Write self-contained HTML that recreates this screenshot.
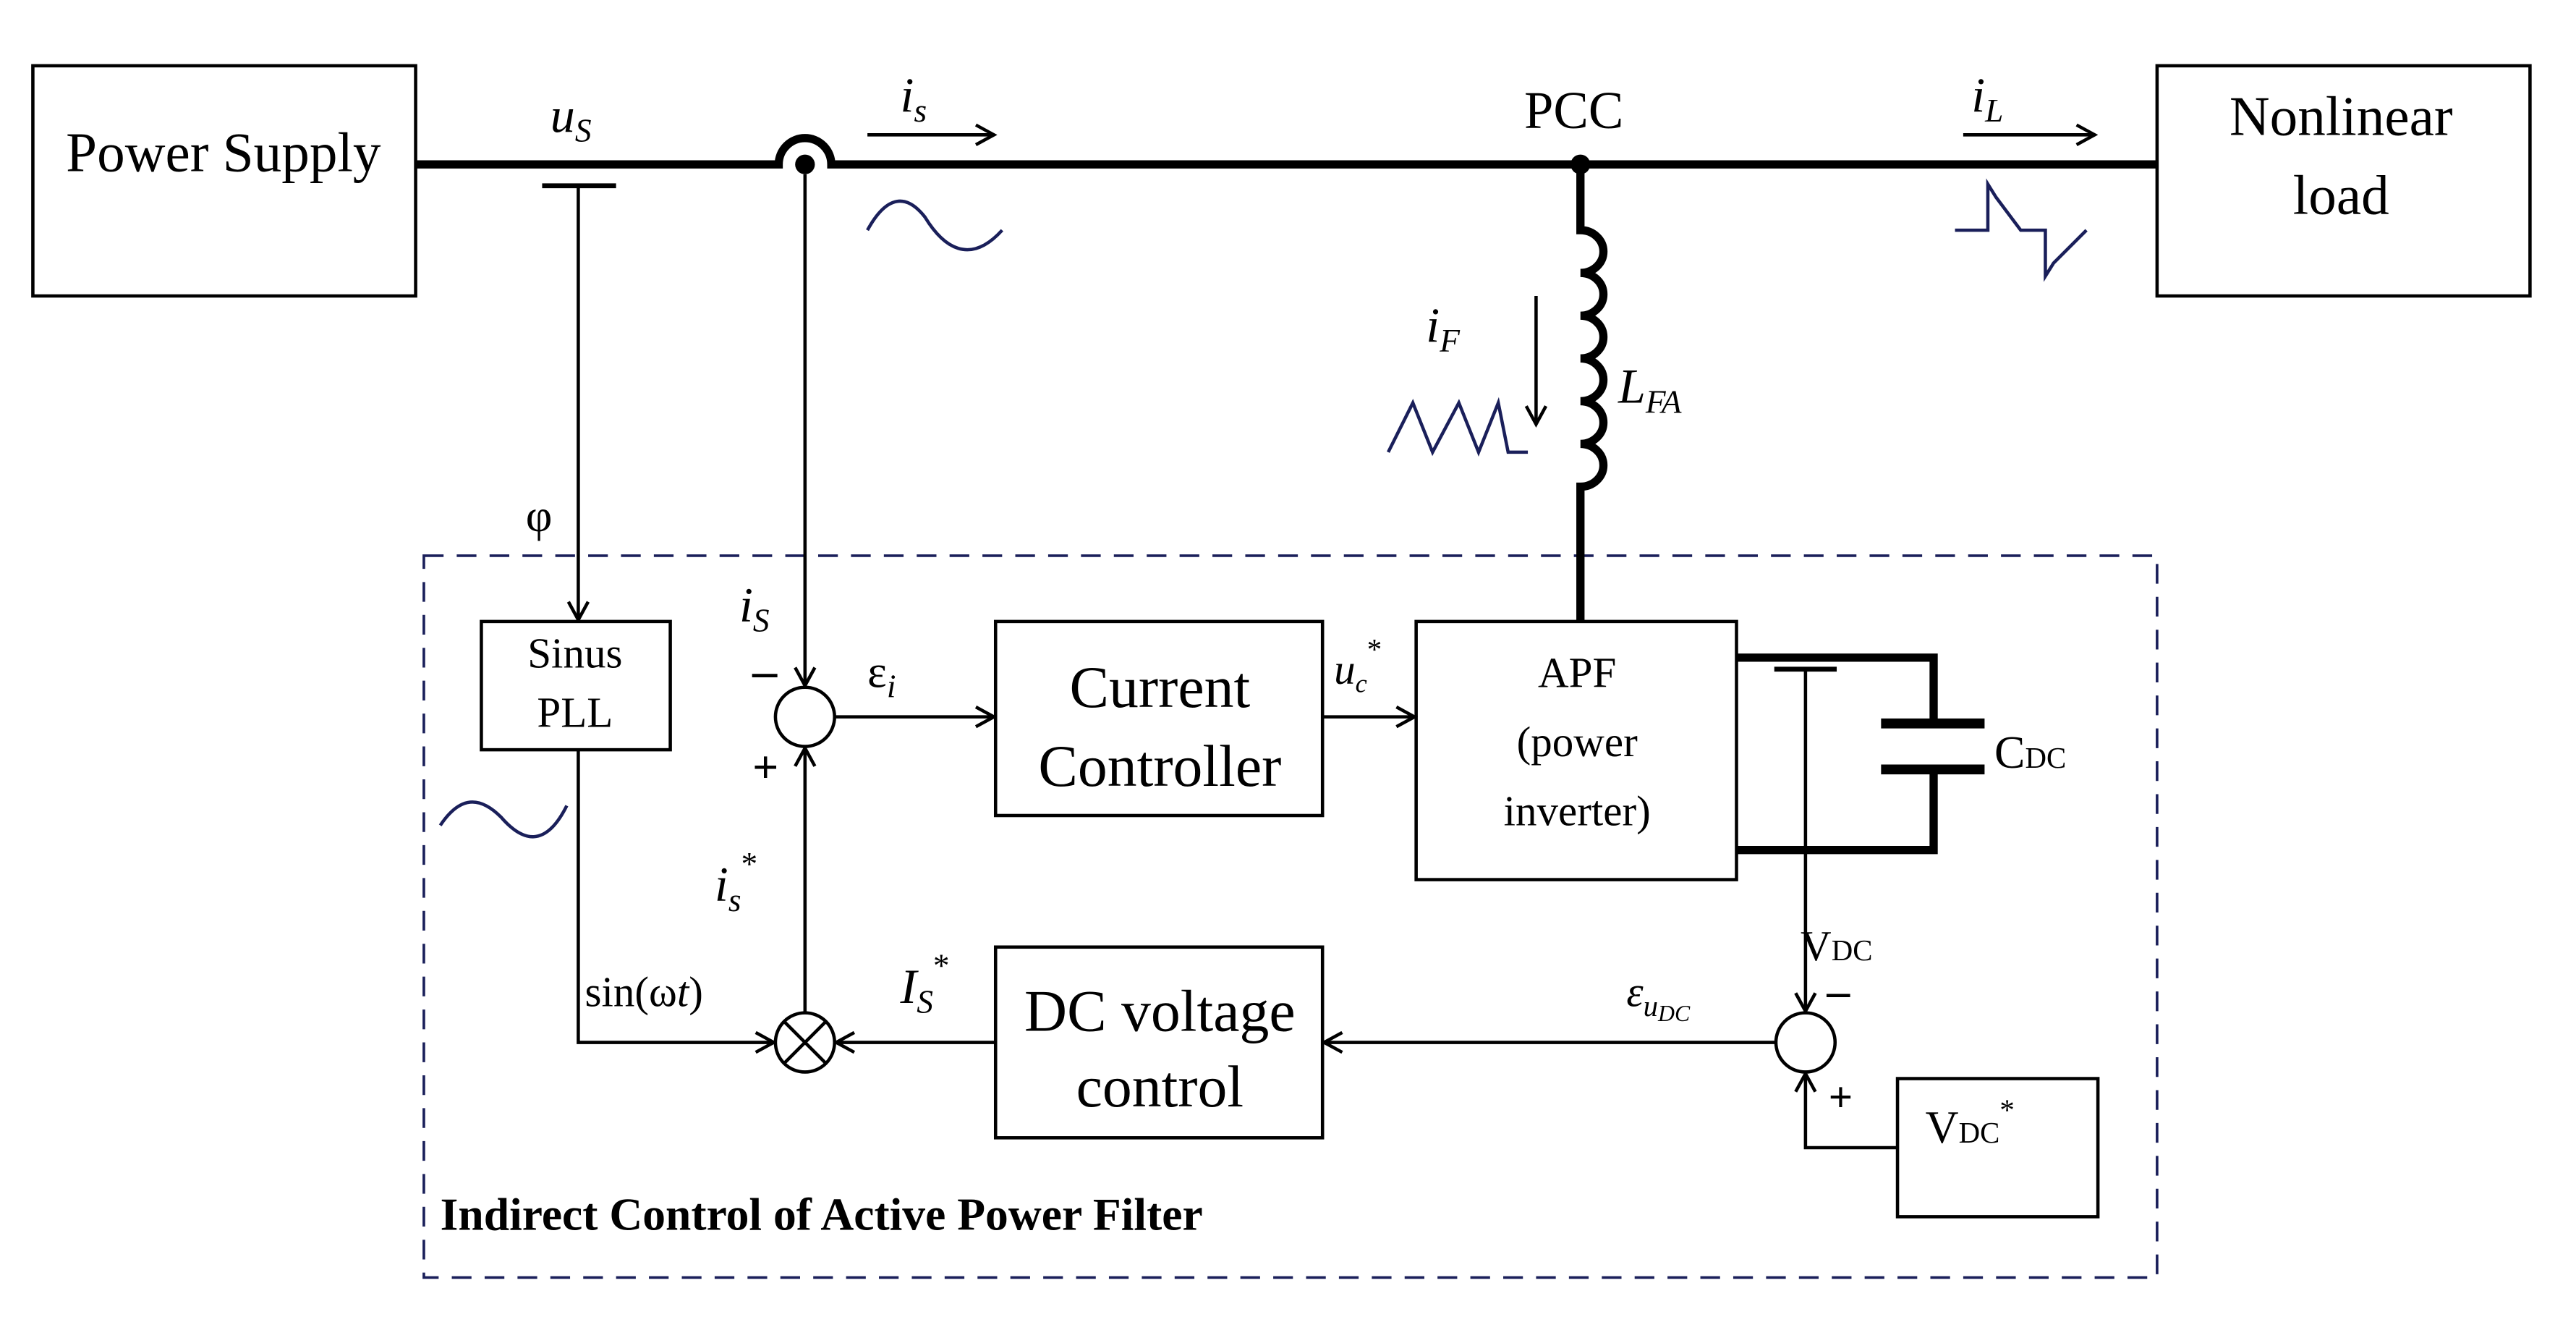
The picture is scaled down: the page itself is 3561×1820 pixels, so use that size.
<!DOCTYPE html>
<html><head><meta charset="utf-8"><style>
html,body{margin:0;padding:0;background:#fff;}
svg{display:block;}
text{font-family:"Liberation Serif",serif;fill:#000;}
.i{font-style:italic;}
</style></head><body>
<svg width="3561" height="1820" viewBox="0 0 1568 801" preserveAspectRatio="none" xmlns="http://www.w3.org/2000/svg">
<defs>
<marker id="a" markerWidth="14" markerHeight="14" refX="12" refY="7" orient="auto" markerUnits="userSpaceOnUse">
<path d="M1,1 L12,7 L1,13" fill="none" stroke="#000" stroke-width="2"/>
</marker>
</defs>
<rect width="1568" height="801" fill="#fff"/>
<g fill="none" stroke="#000" stroke-width="2">
<rect x="20" y="40" width="233" height="140"/>
<rect x="1313" y="40" width="227" height="140"/>
<rect x="293" y="378" width="115" height="78"/>
<rect x="606" y="378" width="199" height="118"/>
<rect x="862" y="378" width="195" height="157"/>
<rect x="606" y="576" width="199" height="116"/>
<rect x="1155" y="656" width="122" height="84"/>
<circle cx="490" cy="436" r="18"/>
<circle cx="490" cy="634" r="18"/>
<circle cx="1099" cy="634" r="18"/>
<path d="M477,621 L503,647 M503,621 L477,647"/>
</g>
<rect x="258" y="338" width="1055" height="439" fill="none" stroke="#1a1f5a" stroke-width="1.6" stroke-dasharray="12,8"/>
<!-- main line -->
<g fill="none" stroke="#000" stroke-width="5">
<path d="M253,100 L474,100 A16,16 0 0 1 506,100 L1313,100"/>
<path d="M962,100 L962,140 a14,13 0 1 1 0,26 a14,13 0 1 1 0,26 a14,13 0 1 1 0,26 a14,13 0 1 1 0,26 a14,13 0 1 1 0,26 a14,13 0 1 1 0,26 L962,378"/>
<path d="M1057,400 L1177,400 L1177,440 M1177,468 L1177,517 L1057,517"/>
<path d="M1145,440 L1208,440 M1145,468 L1208,468" stroke-width="6"/>
</g>
<circle cx="962" cy="100" r="6" fill="#000"/>
<circle cx="490" cy="100" r="6" fill="#000"/>
<g fill="none" stroke="#000" stroke-width="2">
<path d="M330,113 L375,113" stroke-width="3"/>
<path d="M1080,407 L1118,407" stroke-width="3"/>
<path d="M352,113 L352,377" marker-end="url(#a)"/>
<path d="M490,106 L490,417" marker-end="url(#a)"/>
<path d="M528,82 L605,82" marker-end="url(#a)"/>
<path d="M1195,82 L1275,82" marker-end="url(#a)"/>
<path d="M935,180 L935,258" marker-end="url(#a)"/>
<path d="M508,436 L605,436" marker-end="url(#a)"/>
<path d="M805,436 L861,436" marker-end="url(#a)"/>
<path d="M1099,407 L1099,615" marker-end="url(#a)"/>
<path d="M1081,634 L806,634" marker-end="url(#a)"/>
<path d="M606,634 L509,634" marker-end="url(#a)"/>
<path d="M352,456 L352,634 L471,634" marker-end="url(#a)"/>
<path d="M490,616 L490,455" marker-end="url(#a)"/>
<path d="M1155,698 L1099,698 L1099,653" marker-end="url(#a)"/>
</g>
<!-- waveforms -->
<g fill="none" stroke="#1a1f5a" stroke-width="2">
<path d="M528,140 C540,118 552,118 563,132 C574,150 590,162 610,140"/>
<path d="M268,502 C280,484 292,484 305,497 C318,512 332,516 345,490"/>
<path d="M1190,140 L1210,140 L1210,112 L1215,120 L1230,140 L1245,140 L1245,168 L1250,160 L1270,140"/>
<path d="M845,275 L860,245 L872,275 L888,245 L900,275 L912,245 L918,275 L930,275"/>
</g>
<!-- text -->
<text x="136" y="104" font-size="34" text-anchor="middle">Power Supply</text>
<text x="1425" y="82" font-size="34" text-anchor="middle">Nonlinear</text>
<text x="1425" y="130" font-size="34" text-anchor="middle">load</text>
<text x="335" y="80" font-size="30" class="i">u<tspan font-size="20" dy="6">S</tspan></text>
<text x="548" y="68" font-size="30" class="i">i<tspan font-size="20" dy="6">s</tspan></text>
<text x="958" y="78" font-size="32" text-anchor="middle">PCC</text>
<text x="1200" y="68" font-size="30" class="i">i<tspan font-size="20" dy="6">L</tspan></text>
<text x="868" y="208" font-size="30" class="i">i<tspan font-size="20" dy="6">F</tspan></text>
<text x="985" y="245" font-size="30" class="i">L<tspan font-size="20" dy="6">FA</tspan></text>
<text x="320" y="323" font-size="28">φ</text>
<text x="350" y="406" font-size="26" text-anchor="middle">Sinus</text>
<text x="350" y="442" font-size="26" text-anchor="middle">PLL</text>
<text x="450" y="378" font-size="30" class="i">i<tspan font-size="20" dy="6">S</tspan></text>
<text x="458" y="418" font-size="30" font-weight="bold">–</text>
<text x="458" y="476" font-size="28" font-weight="bold">+</text>
<text x="528" y="418" font-size="28">ε<tspan font-size="20" dy="6" class="i">i</tspan></text>
<text x="706" y="430" font-size="36" text-anchor="middle">Current</text>
<text x="706" y="478" font-size="36" text-anchor="middle">Controller</text>
<text x="812" y="416" font-size="26" class="i">u<tspan font-size="16" dy="5">c</tspan><tspan font-size="18" dy="-20" font-style="normal">*</tspan></text>
<text x="960" y="418" font-size="26" text-anchor="middle">APF</text>
<text x="960" y="460" font-size="26" text-anchor="middle">(power</text>
<text x="960" y="502" font-size="26" text-anchor="middle">inverter)</text>
<text x="1214" y="467" font-size="28">C<tspan font-size="18">DC</tspan></text>
<text x="1096" y="584" font-size="26">V<tspan font-size="18">DC</tspan></text>
<text x="1112" y="612" font-size="28" font-weight="bold">–</text>
<text x="1113" y="676" font-size="26" font-weight="bold">+</text>
<text x="990" y="612" font-size="26" class="i">ε<tspan font-size="18" dy="6">u<tspan font-size="14" dy="3">DC</tspan></tspan></text>
<text x="706" y="627" font-size="36" text-anchor="middle">DC voltage</text>
<text x="706" y="673" font-size="36" text-anchor="middle">control</text>
<text x="1172" y="695" font-size="28">V<tspan font-size="18">DC</tspan><tspan font-size="18" dy="-14">*</tspan></text>
<text x="548" y="610" font-size="30" class="i">I<tspan font-size="20" dy="6">S</tspan><tspan font-size="20" dy="-22" font-style="normal">*</tspan></text>
<text x="356" y="612" font-size="26">sin(ω<tspan class="i">t</tspan>)</text>
<text x="435" y="548" font-size="30" class="i">i<tspan font-size="20" dy="6">s</tspan><tspan font-size="20" dy="-22" font-style="normal">*</tspan></text>
<text x="268" y="748" font-size="28" font-weight="bold">Indirect Control of Active Power Filter</text>
</svg>
</body></html>
